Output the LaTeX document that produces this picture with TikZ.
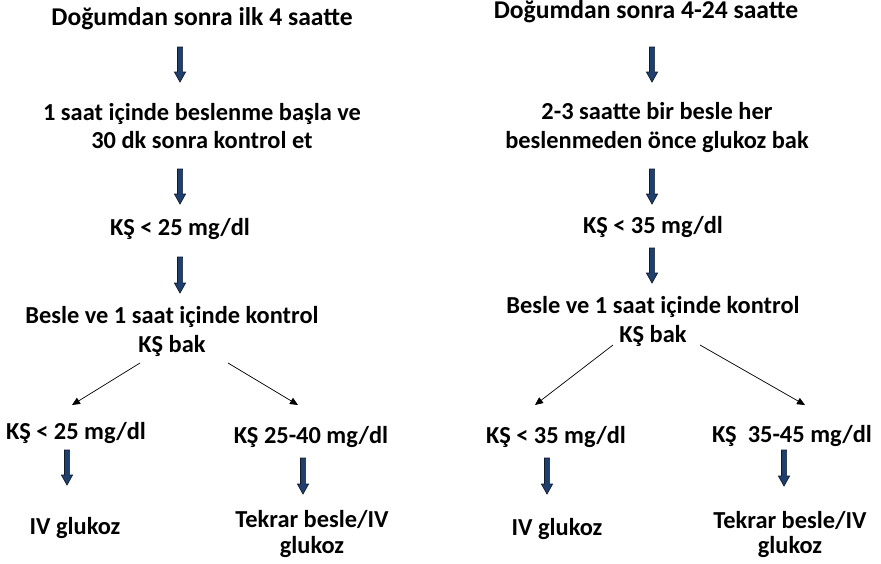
\documentclass[tikz,border=0pt]{standalone}
\usepackage{fontspec}
\setmainfont{Carlito}
\usetikzlibrary{arrows.meta,calc}

\definecolor{navyfill}{HTML}{1F3F6E}
\definecolor{navyedge}{HTML}{101C2C}

% thick down arrow from #1 (top of shaft) to #2 (tip)
\newcommand\blockdown[2]{%
  \filldraw[blockarr] ($(#1)+(-2.6,0)$) -- ($(#2)+(-2.6,-10)$) -- ($(#2)+(-5.6,-10)$)
    -- (#2) -- ($(#2)+(5.6,-10)$) -- ($(#2)+(2.6,-10)$) -- ($(#1)+(2.6,0)$) -- cycle;}

\begin{document}
\begin{tikzpicture}[x=1pt,y=-1pt,
  lbl/.style={font=\bfseries\fontsize{24.4}{25}\selectfont, inner sep=0pt, anchor=base, align=center},
  ttl/.style={lbl, font=\bfseries\fontsize{25.6}{26}\selectfont},
  blockarr/.style={fill=navyfill, draw=navyedge, line width=0.7pt, line join=miter},
  thinarr/.style={draw=black, line width=0.7pt, -{Triangle[length=8pt,width=7pt]}}]
\useasboundingbox (0,0) rectangle (881,563);

% ---------- left column: first 4 hours ----------
\node[ttl] (tl)  at (202,25)  {Doğumdan sonra ilk 4 saatte};
\node[lbl] (fl)  at (202,148) {1 saat içinde beslenme başla ve\\[3pt]30 dk sonra kontrol et};
\node[lbl] (gl)  at (180,235) {KŞ < 25 mg/dl};
\node[lbl] (bl)  at (172,352) {Besle ve 1 saat içinde kontrol\\[4pt]KŞ bak};
\node[lbl] (ll)  at (76,439)  {KŞ < 25 mg/dl};
\node[lbl] (rl)  at (311,443) {KŞ 25-40 mg/dl};
\node[lbl] (ivl) at (75,534)  {IV glukoz};
\node[lbl] (tbl) at (312,553) {Tekrar besle/IV\\[1pt]glukoz};

\coordinate (l1a) at (180,47);  \coordinate (l1b) at (180,82);
\coordinate (l2a) at (180,169); \coordinate (l2b) at (180,204);
\coordinate (l3a) at (180,257); \coordinate (l3b) at (180,293);
\coordinate (l4a) at (67,450);  \coordinate (l4b) at (67,485);
\coordinate (l5a) at (303,458); \coordinate (l5b) at (303,494);
\blockdown{l1a}{l1b}
\blockdown{l2a}{l2b}
\blockdown{l3a}{l3b}
\blockdown{l4a}{l4b}
\blockdown{l5a}{l5b}

\coordinate (lsl) at (140,363); \coordinate (lel) at (72,405);
\coordinate (lsr) at (228,363); \coordinate (ler) at (298,405);
\draw[thinarr] (lsl) -- (lel);
\draw[thinarr] (lsr) -- (ler);

% ---------- right column: 4-24 hours ----------
\node[ttl] (tr)  at (646,18)  {Doğumdan sonra 4-24 saatte};
\node[lbl] (fr)  at (657,148) {2-3 saatte bir besle her\\[4pt]beslenmeden önce glukoz bak};
\node[lbl] (gr)  at (653,233) {KŞ < 35 mg/dl};
\node[lbl] (br)  at (653,342) {Besle ve 1 saat içinde kontrol\\[4pt]KŞ bak};
\node[lbl] (lr)  at (556,443) {KŞ < 35 mg/dl};
\node[lbl] (rr)  at (792,442) {KŞ~~35-45 mg/dl};
\node[lbl] (ivr) at (557,535) {IV glukoz};
\node[lbl] (tbr) at (790,553) {Tekrar besle/IV\\[0pt]glukoz};

\coordinate (r1a) at (652,47);  \coordinate (r1b) at (652,82);
\coordinate (r2a) at (652,169); \coordinate (r2b) at (652,204);
\coordinate (r3a) at (652,248); \coordinate (r3b) at (652,283);
\coordinate (r4a) at (547,458); \coordinate (r4b) at (547,494);
\coordinate (r5a) at (784,450); \coordinate (r5b) at (784,486);
\blockdown{r1a}{r1b}
\blockdown{r2a}{r2b}
\blockdown{r3a}{r3b}
\blockdown{r4a}{r4b}
\blockdown{r5a}{r5b}

\coordinate (rsl) at (613,345); \coordinate (rel) at (535,405);
\coordinate (rsr) at (700,345); \coordinate (rer) at (805,405);
\draw[thinarr] (rsl) -- (rel);
\draw[thinarr] (rsr) -- (rer);
\end{tikzpicture}
\end{document}
